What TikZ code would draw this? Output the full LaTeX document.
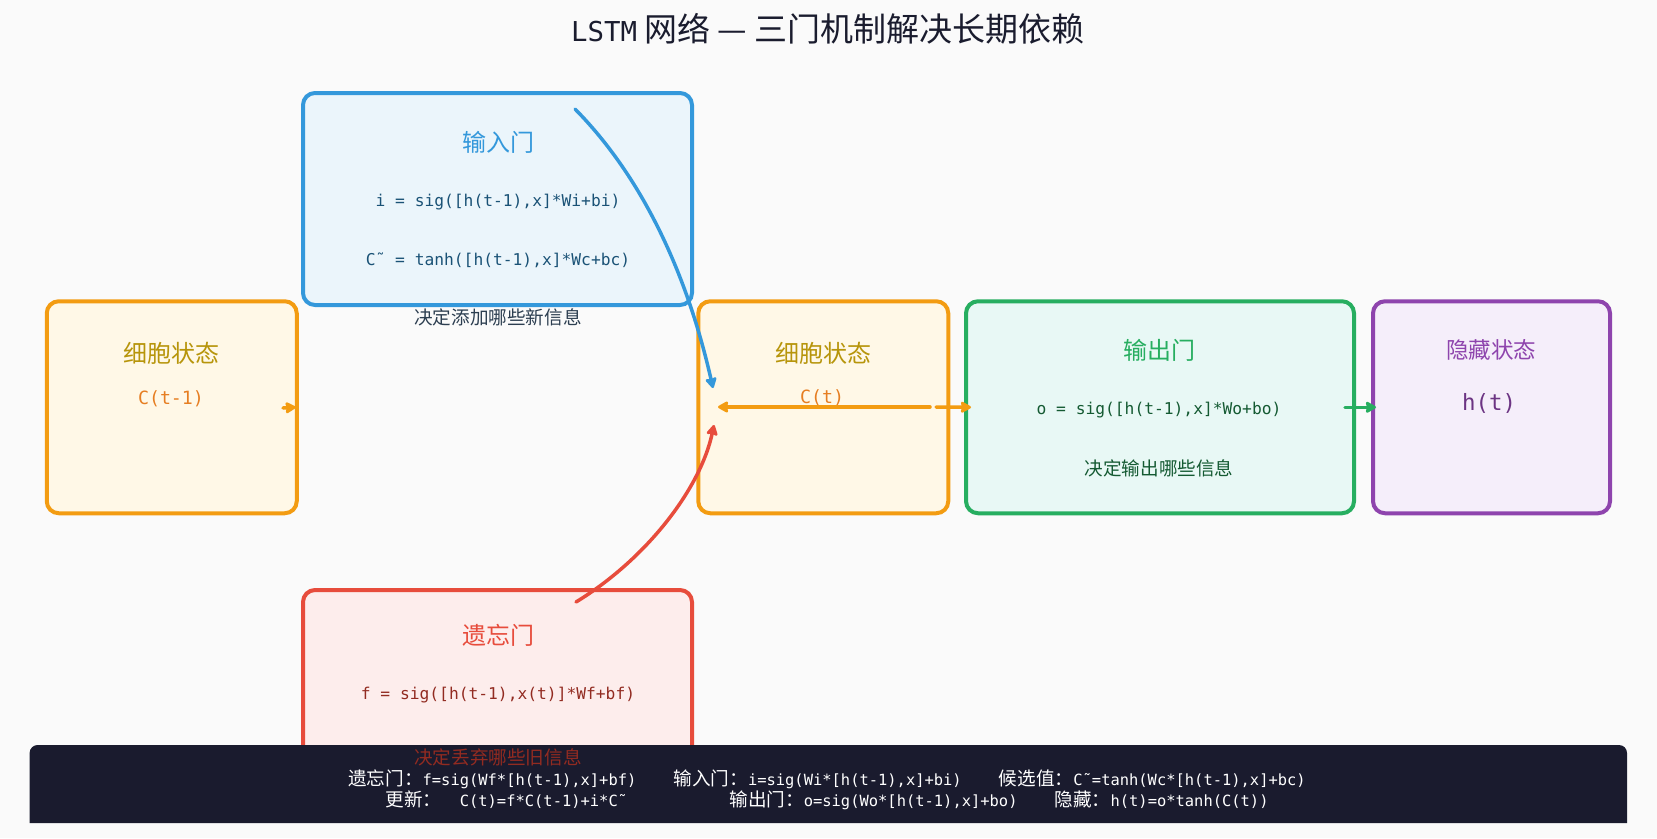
\documentclass[tikz,border=0pt]{standalone}
\usepackage{fontspec}
\usepackage{xcolor}
\usepackage{tikz}
\usetikzlibrary{arrows.meta}
\setmainfont{Noto Sans CJK SC}
\newfontfamily\mono{DejaVu Sans Mono}[Scale=0.83]
\newcommand{\fsz}[1]{\fontsize{#1}{#1}\selectfont}
\definecolor{bgcol}{RGB}{250,250,250}
\definecolor{cellorange}{RGB}{243,156,18}
\definecolor{cellfill}{RGB}{255,248,231}
\definecolor{celltitle}{RGB}{183,149,11}
\definecolor{celltext}{RGB}{230,126,34}
\definecolor{inblue}{RGB}{52,152,219}
\definecolor{infill}{RGB}{235,245,251}
\definecolor{intext}{RGB}{26,82,118}
\definecolor{incap}{RGB}{44,62,80}
\definecolor{outgreen}{RGB}{39,174,96}
\definecolor{outfill}{RGB}{232,248,245}
\definecolor{outtext}{RGB}{20,90,50}
\definecolor{hidpurple}{RGB}{142,68,173}
\definecolor{hidfill}{RGB}{245,238,250}
\definecolor{hidtext}{RGB}{108,52,131}
\definecolor{forgetred}{RGB}{231,76,60}
\definecolor{forgetfill}{RGB}{253,237,236}
\definecolor{forgettext}{RGB}{146,43,33}
\definecolor{barcol}{RGB}{26,27,46}
\definecolor{titlecol}{RGB}{26,28,46}

\begin{document}
\begin{tikzpicture}[x=1pt, y=-1pt,
    nodebox/.style={draw, line width=4pt, rounded corners=12pt, inner sep=0pt, minimum height=212pt},
    cellbox/.style={nodebox, draw=cellorange, fill=cellfill, minimum width=250pt},
    gatebox/.style={nodebox, minimum width=389pt},
    flowarrow/.style={line width=3.5pt, line cap=round, -{Stealth[length=12pt,width=13pt,inset=1.5pt,round]}}]
  \fill[bgcol] (0,0) rectangle (1657,838);
  \useasboundingbox (0,0) rectangle (1657,838);
  % title
  \node[text=titlecol, font=\fsz{33}] (title) at (828,28.5) {{\mono LSTM} 网络 — 三门机制解决长期依赖};
  % boxes
  \node[cellbox] (cellprev) at (171.75,407.25) {};
  \node[cellbox] (cellcur) at (823.25,407.25) {};
  \node[gatebox, draw=inblue, fill=infill] (ingate) at (497.5,199) {};
  \node[gatebox, draw=outgreen, fill=outfill, minimum width=388pt] (outgate) at (1160,407.25) {};
  \node[gatebox, draw=hidpurple, fill=hidfill, minimum width=237pt] (hidden) at (1491.5,407.25) {};
  \node[gatebox, draw=forgetred, fill=forgetfill] (forgetgate) at (497.5,696) {};
  % texts
  \node[text=celltitle, font=\fsz{24}] (prevtitle) at (171,353) {细胞状态};
  \node[text=celltext, font=\fsz{22}\mono] (prevval) at (171,399) {C(t-1)};
  \node[text=celltitle, font=\fsz{24}] (curtitle) at (823,353) {细胞状态};
  \node[text=celltext, font=\fsz{22}\mono] (curval) at (822,398) {C(t)};
  \node[text=inblue, font=\fsz{24}] (intitle) at (498,142) {输入门};
  \node[text=intext, font=\fsz{19.6}\mono] (ieq) at (498,202) {i = sig([h(t-1),x]*Wi+bi)};
  \node[text=intext, font=\fsz{19.6}\mono] (ceq) at (498,260) {C˜ = tanh([h(t-1),x]*Wc+bc)};
  \node[text=incap, font=\fsz{18.6}] (incap) at (498,317) {决定添加哪些新信息};
  \node[text=outgreen, font=\fsz{24}] (outtitle) at (1159,350) {输出门};
  \node[text=outtext, font=\fsz{19.6}\mono] (oeq) at (1159,410) {o = sig([h(t-1),x]*Wo+bo)};
  \node[text=outtext, font=\fsz{18.6}] (outcap) at (1159,468) {决定输出哪些信息};
  \node[text=hidpurple, font=\fsz{22.5}] (hidtitle) at (1491,350) {隐藏状态};
  \node[text=hidtext, font=\fsz{27}\mono] (hidval) at (1489,403) {h(t)};
  \node[text=forgetred, font=\fsz{24}] (fgtitle) at (498,635) {遗忘门};
  \node[text=forgettext, font=\fsz{19.6}\mono] (feq) at (498,695) {f = sig([h(t-1),x(t)]*Wf+bf)};
  % formula bar
  \fill[barcol] (29.6,823) {[rounded corners=8pt] -- (29.6,745) -- (1627,745)} -- (1627,823) -- cycle;
  \node[text=forgettext, font=\fsz{18.6}] (fgcap) at (498,757) {决定丢弃哪些旧信息};
  \node[text=white, font=\fsz{18.6}] (barone) at (827,779) {遗忘门：{\mono f=sig(Wf*[h(t-1),x]+bf)}\hspace{2em}输入门：{\mono i=sig(Wi*[h(t-1),x]+bi)}\hspace{2em}候选值：{\mono C˜=tanh(Wc*[h(t-1),x]+bc)}};
  \node[text=white, font=\fsz{18.6}] (bartwo) at (827,800) {更新：\hspace{1em}{\mono C(t)=f*C(t-1)+i*C˜}\hspace{5.5em}输出门：{\mono o=sig(Wo*[h(t-1),x]+bo)}\hspace{2em}隐藏：{\mono h(t)=o*tanh(C(t))}};
  % connectors
  \coordinate (instart) at (575,109);
  \coordinate (injoin) at (713,388);
  \coordinate (fgstart) at (576,602);
  \coordinate (fgjoin) at (714,425);
  \coordinate (prevout) at (283,408);
  \coordinate (cellback) at (930,407);
  \coordinate (cellin) at (718,407);
  \coordinate (cellout) at (936,407);
  \draw[flowarrow, inblue] (instart) .. controls (655,190) and (693,300) .. (injoin);
  \draw[flowarrow, forgetred] (fgstart) .. controls (645,560) and (700,490) .. (fgjoin);
  \draw[flowarrow, cellorange] (prevout) -- ([xshift=-3pt]cellprev.east);
  \draw[flowarrow, cellorange] (cellback) -- (cellin);
  \draw[flowarrow, cellorange] (cellout) -- ([xshift=7pt]outgate.west);
  \draw[flowarrow, outgreen] ([xshift=-11pt]outgate.east) -- ([xshift=5pt]hidden.west);
\end{tikzpicture}
\end{document}
